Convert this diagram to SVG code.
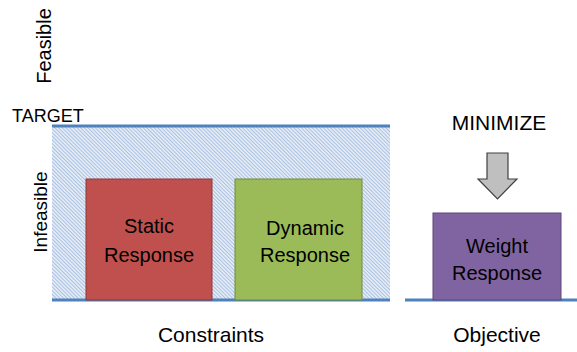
<svg xmlns="http://www.w3.org/2000/svg" width="577" height="352" viewBox="0 0 577 352">
<style>
text{font-family:"Liberation Sans",Arial,sans-serif;fill:#000}
.lbl{font-size:21px;text-anchor:middle}
.box{font-size:20px;text-anchor:middle}
.base{stroke:#4F81BD;stroke-width:3;fill:none}
</style>
<defs>
<pattern id="hatch" width="2.6" height="2.6" patternUnits="userSpaceOnUse" patternTransform="rotate(-45)">
<rect width="2.6" height="2.6" fill="#E2EAF5"/>
<line x1="0" y1="0" x2="0" y2="2.6" stroke="#86A6D4" stroke-width="1.1"/>
</pattern>
</defs>
<g id="feasible-label"><text class="lbl" transform="translate(51,46) rotate(-90)" style="font-size:20px">Feasible</text></g>
<g id="infeasible-label"><text class="lbl" transform="translate(47,212) rotate(-90)" style="font-size:19px">Infeasible</text></g>
<g id="target-label"><text x="12" y="122" style="font-size:18px">TARGET</text></g>
<g id="infeasible-region">
<rect x="52" y="126" width="338" height="174" fill="url(#hatch)"/>
</g>
<g id="connectors">
<line class="base" x1="52" y1="126" x2="390" y2="126"/>
<line class="base" x1="52" y1="300" x2="390" y2="300"/>
<line class="base" x1="405" y1="300" x2="577" y2="300"/>
</g>
<g id="static-response">
<rect x="86" y="179" width="126" height="121" fill="#C0504D" stroke="#8C3836" stroke-width="1"/>
<text class="box" x="149" y="233">Static</text>
<text class="box" x="149" y="262">Response</text>
</g>
<g id="dynamic-response">
<rect x="235" y="179" width="127" height="121" fill="#9BBB59" stroke="#71893F" stroke-width="1"/>
<text class="box" x="305" y="235">Dynamic</text>
<text class="box" x="305" y="262">Response</text>
</g>
<g id="weight-response">
<rect x="433" y="213" width="128" height="87" fill="#8064A2" stroke="#5C4776" stroke-width="1"/>
<text class="box" x="497" y="253">Weight</text>
<text class="box" x="497" y="280">Response</text>
</g>
<g id="minimize">
<text class="lbl" x="499" y="130">MINIMIZE</text>
<polygon points="487,153 508,153 508,179 517,179 497.5,199 478,179 487,179" fill="#BFBFBF" stroke="#404040" stroke-width="1.2" stroke-linejoin="miter"/>
</g>
<g id="constraints-label"><text class="lbl" x="211" y="342">Constraints</text></g>
<g id="objective-label"><text class="lbl" x="497" y="342">Objective</text></g>
</svg>
